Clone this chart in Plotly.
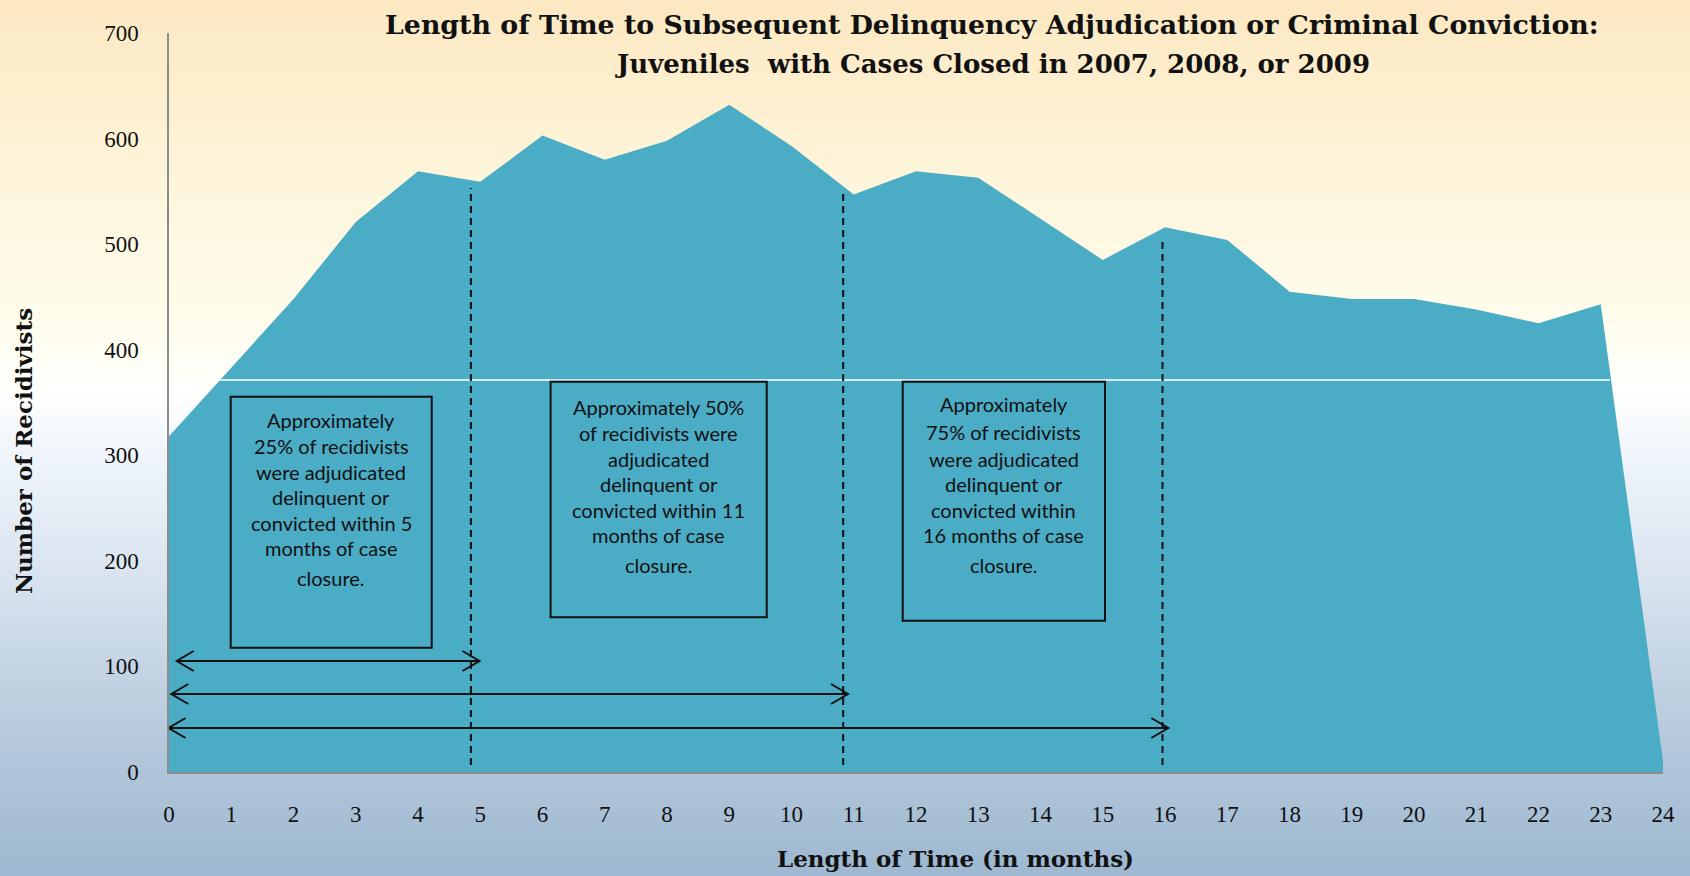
import base64, struct, zlib
import plotly.graph_objects as go

# ---------------- data ----------------
months = list(range(25))
recidivists = [318, 383, 448, 521, 569, 559, 603, 580, 598, 632, 593, 547, 569,
               563, 524, 485, 516, 504, 455, 448, 448, 438, 425, 443, 10]
x_tick_labels = [str(m) for m in months]
y_tick_values = [0, 100, 200, 300, 400, 500, 600, 700]

title_lines = ["Length of Time to Subsequent Delinquency Adjudication or Criminal Conviction:",
               "Juveniles  with Cases Closed in 2007, 2008, or 2009"]
x_title = "Length of Time (in months)"
y_title = "Number of Recidivists"

box_texts = [
    ["Approximately", "25% of recidivists", "were adjudicated", "delinquent or",
     "convicted within 5", "months of case", "closure."],
    ["Approximately 50%", "of recidivists were", "adjudicated", "delinquent or",
     "convicted within 11", "months of case", "closure."],
    ["Approximately", "75% of recidivists", "were adjudicated", "delinquent or",
     "convicted within", "16 months of case", "closure."],
]
milestone_months = [4.85, 10.83, 15.96]

# ---------------- layout geometry (pixels) ----------------
W, H = 1690, 876
L, R, T, B = 169, 27, 33, 104
PW, PH = W - L - R, H - T - B
XMAX, YMAX = 24, 700


def mx(px):  # pixel x -> months
    return (px - L) / PW * XMAX


def vy(py):  # pixel y -> value
    return (H - B - py) / PH * YMAX


def paper_x(px):
    return (px - L) / PW


def paper_y(py):
    return (H - B - py) / PH


# ---------------- background gradient image ----------------
stops = [(0.00, (252, 232, 194)), (0.22, (254, 246, 220)), (0.38, (255, 253, 238)),
         (0.45, (255, 255, 253)), (0.51, (241, 246, 252)), (0.65, (218, 229, 240)),
         (0.82, (186, 204, 222)), (1.00, (157, 184, 208))]


def grad_color(t):
    for (t0, c0), (t1, c1) in zip(stops[:-1], stops[1:]):
        if t <= t1:
            f = (t - t0) / (t1 - t0) if t1 > t0 else 0
            return tuple(int(round(a + (b - a) * f)) for a, b in zip(c0, c1))
    return stops[-1][1]


def make_png(w, h):
    raw = b""
    for r in range(h):
        c = grad_color(r / (h - 1))
        raw += b"\x00" + bytes(c) * w
    def chunk(tag, data):
        return struct.pack(">I", len(data)) + tag + data + struct.pack(">I", zlib.crc32(tag + data) & 0xffffffff)
    png = b"\x89PNG\r\n\x1a\n"
    png += chunk(b"IHDR", struct.pack(">IIBBBBB", w, h, 8, 2, 0, 0, 0))
    png += chunk(b"IDAT", zlib.compress(raw, 9))
    png += chunk(b"IEND", b"")
    return "data:image/png;base64," + base64.b64encode(png).decode()


bg_src = make_png(4, H)

fig = go.Figure()
fig.add_trace(go.Scatter(x=months, y=recidivists, mode="lines", fill="tozeroy",
                         line=dict(width=0, color="#4BACC6"), fillcolor="#4BACC6",
                         hoverinfo="x+y", showlegend=False))

shapes = []
# white horizontal line across the area
shapes.append(dict(type="line", xref="x", yref="y", x0=0, x1=mx(1610), y0=vy(380), y1=vy(380),
                   line=dict(color="white", width=1.5)))
# dashed milestone lines
dash_tops = [vy(188), vy(193), vy(237)]
for m, top in zip(milestone_months, dash_tops):
    shapes.append(dict(type="line", xref="x", yref="y", x0=m, x1=m, y0=vy(765), y1=top,
                       line=dict(color="#111111", width=2, dash="7px,5px")))
# text boxes
box_px = [(230.7, 431.7, 396.7, 647.7), (550.6, 766.7, 381.7, 617.3), (902.7, 1105, 381.7, 620.7)]
for (x0, x1, y0, y1) in box_px:
    shapes.append(dict(type="rect", xref="x", yref="y", x0=mx(x0), x1=mx(x1), y0=vy(y1), y1=vy(y0),
                       line=dict(color="#111111", width=2), fillcolor="rgba(0,0,0,0)"))
# double-headed arrows
arrow_px = [(176.7, 479.5, 661.0), (171.3, 848.0, 694.0), (168.6, 1168.3, 728.0)]
hx, hy = 17, 10
for (xa, xb, yy) in arrow_px:
    p = (f"M {mx(xa)},{vy(yy)} L {mx(xb)},{vy(yy)} "
         f"M {mx(xa + hx)},{vy(yy - hy)} L {mx(xa)},{vy(yy)} L {mx(xa + hx)},{vy(yy + hy)} "
         f"M {mx(xb - hx)},{vy(yy - hy)} L {mx(xb)},{vy(yy)} L {mx(xb - hx)},{vy(yy + hy)}")
    shapes.append(dict(type="path", xref="x", yref="y", path=p, line=dict(color="#111111", width=2)))

annotations = []
serif = "Liberation Serif, DejaVu Serif, serif"
title_font = "DejaVu Serif, Liberation Serif, serif"
annotations.append(dict(text=f"<b>{title_lines[0]}</b>", x=paper_x(992), y=paper_y(25), xref="paper",
                        yref="paper", showarrow=False, xanchor="center", yanchor="middle",
                        font=dict(family=title_font, size=26.8, color="#111111")))
annotations.append(dict(text=f"<b>{title_lines[1]}</b>", x=paper_x(992), y=paper_y(64), xref="paper",
                        yref="paper", showarrow=False, xanchor="center", yanchor="middle",
                        font=dict(family=title_font, size=26, color="#111111")))
annotations.append(dict(text=f"<b>{x_title}</b>", x=paper_x(955), y=paper_y(859), xref="paper",
                        yref="paper", showarrow=False, xanchor="center", yanchor="middle",
                        font=dict(family=title_font, size=23, color="#111111")))
annotations.append(dict(text=f"<b>{y_title}</b>", x=paper_x(24), y=paper_y(451), xref="paper",
                        yref="paper", showarrow=False, xanchor="center", yanchor="middle", textangle=-90,
                        font=dict(family=title_font, size=23, color="#111111")))

line_y_px = [[420, 445.7, 471.7, 496.7, 522.7, 547.7, 577.7],
             [407, 433, 458.7, 483.7, 509.7, 535.3, 564.7],
             [404, 431.7, 458.7, 483.7, 509.7, 535.3, 564.7]]
for lines, ys, (x0, x1, _, _) in zip(box_texts, line_y_px, box_px):
    cx = mx((x0 + x1) / 2)
    for txt, yp in zip(lines, ys):
        annotations.append(dict(text=txt, x=cx, y=vy(yp), xref="x", yref="y", showarrow=False,
                                xanchor="center", yanchor="middle",
                                font=dict(family="Lato, Open Sans, sans-serif", size=20, color="#111111")))

fig.update_layout(
    width=W, height=H,
    margin=dict(l=L, r=R, t=T, b=B, autoexpand=False),
    paper_bgcolor="white", plot_bgcolor="rgba(0,0,0,0)",
    showlegend=False,
    shapes=shapes, annotations=annotations,
    images=[dict(source=bg_src, xref="paper", yref="paper", x=paper_x(0), y=paper_y(0),
                 sizex=W / PW, sizey=H / PH, xanchor="left", yanchor="top",
                 sizing="stretch", layer="below")],
    xaxis=dict(range=[0, XMAX], tickmode="array", tickvals=months, ticktext=x_tick_labels,
               showgrid=False, zeroline=False, showline=True, linecolor="#8c8c8c", linewidth=2,
               ticks="", ticklabelstandoff=20, tickfont=dict(family=serif, size=23, color="#111111")),
    yaxis=dict(range=[0, YMAX], tickmode="array", tickvals=y_tick_values,
               showgrid=False, zeroline=False, showline=True, linecolor="#8c8c8c", linewidth=1.5,
               ticks="", ticklabelstandoff=24, tickfont=dict(family=serif, size=23, color="#111111")),
)

fig.write_html("out.html", config={"displayModeBar": False},
               post_script="document.body.style.margin='0';document.body.style.overflow='hidden';")
